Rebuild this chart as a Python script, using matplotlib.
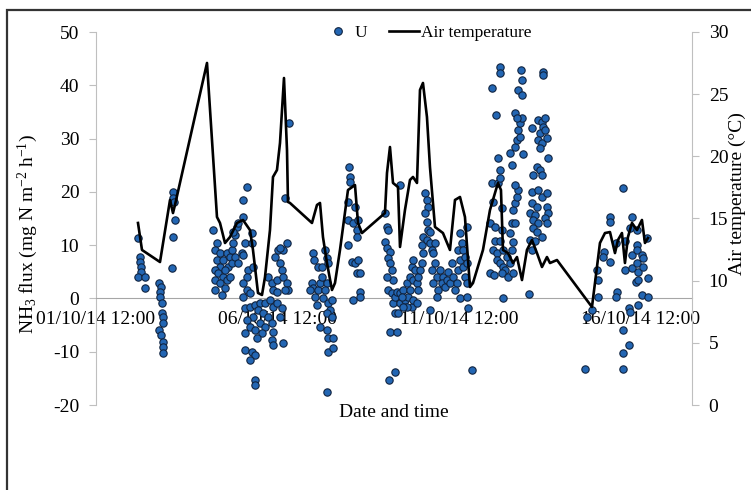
import matplotlib
matplotlib.use("Agg")
import matplotlib.pyplot as plt
from matplotlib.lines import Line2D
from matplotlib.patches import Rectangle

plt.rcParams['font.family'] = ['Liberation Serif', 'DejaVu Serif']
plt.rcParams['mathtext.fontset'] = 'custom'
plt.rcParams['mathtext.rm'] = 'Liberation Serif'
plt.rcParams['mathtext.it'] = 'Liberation Serif:italic'
plt.rcParams['axes.unicode_minus'] = False

# x values are days since 01/10/14 12:00
tick_days = [0, 5, 10, 15]
tick_labels = ['01/10/14 12:00', '06/10/14 12:00', '11/10/14 12:00', '16/10/14 12:00']

# air temperature (right axis, degC)
temp_days = [1.157, 1.267, 1.763, 2.039, 2.121, 2.176, 3.058, 3.333, 3.416, 3.554,
             3.691, 3.884, 4.05, 4.242, 4.325, 4.463, 4.573, 4.656, 4.793, 4.876,
             4.986, 5.069, 5.179, 5.262, 5.289, 5.344, 5.950, 6.088, 6.171, 6.253,
             6.364, 6.501, 6.584, 6.722, 6.942, 7.135, 7.218, 7.328, 7.961, 8.017,
             8.099, 8.182, 8.320, 8.375, 8.512, 8.650, 8.733, 8.843, 8.926, 9.008,
             9.118, 9.201, 9.339, 9.559, 9.752, 9.890, 10.028, 10.165, 10.303, 10.386,
             10.661, 10.854, 11.074, 11.157, 11.212, 11.350, 11.488, 11.598, 11.736, 11.873,
             12.011, 12.149, 12.287, 12.424, 12.507, 12.70, 13.664, 13.747, 13.884, 14.022,
             14.160, 14.298, 14.380, 14.490, 14.573, 14.656, 14.766, 14.904, 15.041, 15.124,
             15.207]
temp_values = [14.64, 12.47, 11.50, 16.49, 15.44, 16.09, 27.51, 15.12, 14.64, 13.03,
               13.51, 14.64, 14.88, 14.07, 12.47, 9.01, 8.85, 10.29, 14.07, 18.34,
               18.90, 21.07, 26.30, 20.51, 16.33, 16.25, 14.64, 16.09, 16.25, 13.51,
               11.42, 9.25, 9.81, 12.47, 17.29, 17.69, 14.64, 13.83, 15.44, 18.66,
               20.75, 17.86, 17.53, 12.71, 15.68, 18.10, 18.34, 17.86, 25.34, 25.90,
               23.16, 19.14, 14.32, 13.83, 12.47, 16.49, 16.73, 15.12, 9.49, 9.81,
               12.47, 15.68, 17.86, 17.29, 12.47, 12.22, 11.42, 11.90, 10.05, 12.47,
               13.27, 12.22, 11.10, 11.90, 11.42, 11.66, 7.88, 9.81, 13.03, 13.83,
               13.91, 12.22, 13.27, 13.83, 11.42, 13.51, 14.64, 14.07, 14.88, 13.03,
               13.43]

# NH3 flux, treatment U (left axis, mg N m-2 h-1)
flux_days = [
    1.165, 1.212, 1.212, 1.231, 1.231, 1.165, 1.350, 1.350,
    2.129, 2.113, 2.149, 2.176, 2.129, 2.085,
    1.744, 1.782, 1.763, 1.763, 1.810, 1.810, 1.854, 1.837, 1.744, 1.782, 1.854, 1.837, 1.837,
    3.215, 3.325, 3.278, 3.416, 3.325, 3.416, 3.278, 3.369, 3.507, 3.278, 3.416, 3.278, 3.463,
    3.554, 3.507, 3.601, 3.691, 3.738, 3.782, 3.829, 3.876, 3.920, 3.782, 3.645, 3.738, 3.829,
    3.920, 3.601, 3.691, 3.554, 4.058, 4.058, 4.152, 4.105, 4.014,
    4.289, 4.289, 4.058, 4.196, 4.152, 4.058, 4.152, 4.058, 4.242, 4.333, 4.105, 4.242, 4.380,
    4.518, 4.656, 4.793, 4.884, 4.978, 4.471, 4.609, 4.747, 4.333, 4.152, 4.518, 4.840, 4.242,
    4.656, 4.380, 4.105, 4.565, 4.884, 4.427, 4.840, 5.160, 4.884, 4.105, 4.289, 4.380, 4.242,
    4.380, 4.380, 5.069, 5.116,
    4.747, 4.840, 4.978, 4.931, 5.022, 5.069, 5.116, 5.160, 5.253, 5.298, 5.207, 5.160, 5.253,
    5.069, 5.317, 5.207, 4.884, 4.978,
    5.970, 6.006, 5.942, 5.986, 5.895, 6.033, 6.124, 6.171, 6.218, 6.124, 6.218, 6.309, 6.355,
    6.399, 6.355, 6.309, 6.080, 6.262, 6.399, 6.493, 6.446, 6.355, 6.493, 6.171, 6.372, 6.399,
    6.537, 6.399, 6.537, 6.372,
    6.978, 6.997, 6.997, 6.950, 7.135, 6.950, 7.088, 7.182, 7.226, 7.044, 7.135, 7.226, 7.182,
    7.273, 6.950, 7.273, 7.273, 7.088, 7.182,
    7.961, 8.008, 8.052, 7.961, 8.008, 8.099, 8.052, 8.099, 8.146, 8.190, 8.008, 8.052, 8.146,
    8.190, 8.237, 8.284, 8.237, 8.328, 8.375, 8.099, 8.284, 8.080, 8.237, 8.375,
    8.375, 8.466, 8.512, 8.559, 8.603, 8.650, 8.697, 8.741, 8.650, 8.741, 8.697, 8.741, 8.788,
    8.834, 8.879, 8.879, 8.926, 8.972, 8.834, 8.559, 8.466, 8.421, 9.017, 8.972, 9.017, 9.063,
    9.110, 9.154, 9.063, 9.110, 9.154, 9.201, 9.110, 9.201, 9.248, 9.339, 9.292, 9.339, 9.248,
    9.386, 9.292, 9.430, 9.386, 9.201,
    9.477, 9.567, 9.523, 9.614, 9.661, 9.752, 9.799, 9.705, 9.843, 9.937, 9.890, 9.981, 10.028,
    9.981, 10.074, 10.028, 10.118, 10.165, 10.118, 10.212, 10.165, 10.212, 10.212, 10.028,
    10.212, 10.256, 10.350,
    10.901, 11.129, 11.129, 11.011, 11.083, 11.129, 10.901, 11.083, 11.129, 10.945, 11.176,
    10.854, 10.992, 11.176, 10.992, 10.945, 11.039, 11.129, 11.220, 11.039, 11.129, 11.220,
    11.267, 11.176, 10.854, 10.964, 11.220, 11.314, 11.405, 11.358, 11.496, 11.452, 11.496,
    11.405, 11.452, 11.543, 11.496, 11.543, 11.590, 11.634, 11.543, 11.452, 11.405, 11.543,
    11.590, 11.680, 11.634, 11.680, 11.727, 11.543, 11.590, 11.755, 11.634, 11.727, 11.727,
    11.700,
    12.306, 12.306, 12.003, 12.185, 12.278, 12.369, 12.322, 12.231, 12.369, 12.185, 12.278,
    12.231, 12.416, 12.460, 12.140, 12.231, 12.047, 12.278, 12.003, 12.185, 12.278, 12.416,
    12.003, 12.140, 12.416, 11.956, 12.094, 12.460, 12.047, 12.185, 12.369, 12.416, 12.047,
    12.140, 12.278, 11.956, 12.003, 12.094, 11.937,
    13.479, 13.656, 13.518, 13.837, 13.837, 13.793, 13.994, 13.975, 14.160, 14.160, 14.160,
    14.325, 14.344, 14.325, 14.526, 14.573, 14.573, 14.691, 14.711, 14.510, 14.691, 14.526,
    14.510, 14.758, 14.711, 14.895, 14.758, 14.758, 14.895, 14.895, 14.895, 14.939, 14.876,
    14.939, 15.033, 15.077, 15.061, 15.033, 14.939, 15.215, 15.215, 15.187,
]
flux_values = [
    11.28, 7.83, 6.89, 5.95, 5.02, 4.08, 4.08, 1.90,
    20.03, 18.79, 18.16, 14.72, 11.58, 5.65,
    2.83, 2.20, 1.27, 0.33, -0.92, -2.79, -3.43, -4.67, -5.93, -6.86, -8.12, -9.06, -10.30,
    12.84, 10.35, 9.09, 8.47, 7.21, 5.96, 5.33, 4.71, 4.08, 3.46, 2.84, 1.58, 0.64,
    1.90, 7.21, 8.47, 7.83, 9.09, 10.35, 11.90, 13.46, 14.10, 12.52, 5.96, 6.59, 7.83,
    6.59, 3.46, 4.08, 5.33, 15.34, 18.47, 20.97, 10.35, 8.47,
    12.22, 10.35, 8.15, 5.33, 4.08, 2.84, 1.58, 0.33, 0.97, 5.96, -1.86, -1.55, -1.23,
    -0.92, -0.92, -0.30, -1.55, -0.92, -2.17, -2.79, -3.43, -3.43, -4.05, -4.67, -4.67, -5.30,
    -5.30, -5.93, -6.55, -6.55, -6.24, -7.49, -7.80, -8.42, -8.74, -9.68, -10.00, -10.62, -11.55,
    -15.31, -16.25, -3.43, -1.86,
    4.08, 2.84, 3.46, 7.83, 9.09, 6.59, 5.33, 4.08, 2.84, 1.58, 1.58, 9.09, 10.35,
    9.41, 32.98, 18.79, 1.58, 1.27,
    8.47, 7.21, 2.84, 1.90, 1.58, 0.33, 1.58, 2.84, 4.08, 5.96, 5.96, 9.09, 7.52,
    6.59, 2.84, 1.58, -1.23, 0.02, -0.92, -0.30, -2.17, -2.79, -3.43, -5.30, -5.93, -7.49,
    -7.49, -10.00, -9.36, -17.51,
    24.72, 22.84, 21.91, 18.16, 17.22, 14.72, 14.10, 12.84, 14.72, 6.89, 6.59, 7.21, 4.71,
    4.71, 10.03, 1.27, 0.33, -0.30, 11.59,
    15.97, 13.46, 12.84, 10.65, 9.41, 8.77, 7.52, 6.59, 5.33, 3.46, 4.08, 1.58, 0.97,
    -0.92, 0.33, 1.27, -2.79, -2.79, -0.92, -6.24, -6.24, -15.31, -13.74, 21.29,
    0.97, 1.58, -0.30, 2.84, 0.33, 1.58, -1.55, -0.30, 4.08, 3.46, 5.96, 7.21, 5.33,
    2.84, 1.58, 4.08, 5.33, 6.59, -0.92, -1.55, -1.55, 0.33, 11.59, 10.03, 8.47, 19.73,
    18.47, 17.22, 15.97, 14.41, 12.84, 12.52, 10.97, 10.35, 9.09, 10.35, 8.47, 6.59, 5.33,
    4.08, 2.84, 1.58, 0.33, -2.17,
    5.33, 4.08, 2.84, 2.20, 3.46, 2.84, 6.59, 5.02, 4.08, 2.84, 1.58, 5.33, 7.21,
    9.09, 10.35, 12.22, 9.09, 7.83, 5.96, 6.59, 4.08, 2.84, 13.46, 0.02,
    0.33, -1.86, -13.43,
    39.43, 43.49, 42.24, 34.42, 26.30, 24.10, 21.60, 21.60, 22.54, 18.16, 16.92,
    14.10, 13.46, 12.84, 10.72, 9.09, 8.47, 10.72, 9.09, 7.21, 6.59, 5.96,
    5.33, 4.71, 4.71, 4.40, 0.02, 7.83, 6.59, 4.08, 4.71, 9.09, 10.65,
    12.22, 14.10, 14.10, 16.59, 17.85, 19.10, 20.35, 21.29, 25.04, 27.24, 28.47,
    29.73, 30.35, 31.61, 32.87, 33.80, 34.74, 33.80, 27.10, 39.11, 38.18, 40.99,
    42.87,
    42.55, 41.93, 31.93, 33.49, 33.17, 33.80, 32.23, 30.99, 31.61, 29.73, 29.11,
    28.17, 30.05, 26.30, 24.72, 24.10, 23.16, 23.16, 20.03, 20.35, 19.10, 19.73,
    17.85, 17.22, 17.22, 15.97, 15.66, 15.97, 14.72, 14.10, 15.04, 14.10, 13.16,
    12.52, 11.59, 10.97, 9.09, 10.72, 0.77,
    -13.30, -2.17, -3.43, 3.46, 0.33, 5.33, 8.77, 7.83, 15.34, 14.41, 6.89,
    10.35, 1.27, 0.33, 20.66, 10.72, 5.33, -1.86, -2.49, -5.93, -8.74, -10.30,
    -13.30, 15.34, 13.16, 12.84, 8.15, 5.65, 10.03, 9.09, 6.59, 5.02, 3.14,
    3.46, 8.15, 7.52, 5.96, 0.64, -1.23, 3.77, 0.33, 11.28,
]

axis_grey = '#A6A6A6'
dot_face = '#2366B3'
dot_edge = '#10233F'

fig = plt.figure(figsize=(7.51, 4.90), dpi=100)
ax = fig.add_axes([96 / 751, 1 - 405 / 490, 596 / 751, 373 / 490])
ax2 = ax.twinx()

ax.scatter(flux_days, flux_values, s=28, c=dot_face, edgecolors=dot_edge,
           linewidths=0.8, zorder=3)
ax2.plot(temp_days, temp_values, color='black', linewidth=1.9, zorder=4)

ax.set_xlim(0, 16.42)
ax.set_ylim(-20, 50)
ax.set_yticks(range(-20, 51, 10))
ax2.set_ylim(0, 30)
ax2.set_yticks(range(0, 31, 5))
ax.set_xticks(tick_days)
ax.set_xticklabels(tick_labels)

# spines: x axis crosses at flux = 0
for s in ['top', 'right']:
    ax.spines[s].set_visible(False)
ax.spines['bottom'].set_position(('data', 0))
ax.spines['bottom'].set_color(axis_grey)
ax.spines['left'].set_color('#BFBFBF')
for s in ['top', 'left', 'bottom']:
    ax2.spines[s].set_visible(False)
ax2.spines['right'].set_color('#BFBFBF')

ax.tick_params(axis='x', length=0, pad=9, labelsize=14)
ax.tick_params(axis='y', length=5, width=0.8, color='#BFBFBF', pad=7, labelsize=14)
ax2.tick_params(axis='y', length=5, width=0.8, color='#BFBFBF', pad=7, labelsize=14)

ax.set_ylabel('NH$_3$ flux (mg N m$^{\\mathrm{-2}}$ h$^{\\mathrm{-1}}$)', fontsize=14)
ax.yaxis.set_label_coords(-0.094, 0.457)
ax2.set_ylabel('Air temperature (\u00b0C)', fontsize=14)
ax2.yaxis.set_label_coords(1.062, 0.566)
fig.text(394 / 751, 1 - 412 / 490, 'Date and time', fontsize=14,
         ha='center', va='center')

handles = [Line2D([], [], linestyle='none', marker='o', markersize=5.5,
                  markerfacecolor=dot_face, markeredgecolor=dot_edge, markeredgewidth=0.8),
           Line2D([], [], color='black', linewidth=1.9)]
ax2.legend(handles, ['U', 'Air temperature'], ncol=2, frameon=False, fontsize=12.5,
           loc='center', bbox_to_anchor=(427 / 751, 1 - 33 / 490),
           bbox_transform=fig.transFigure, handlelength=1.7, handletextpad=0.1,
           columnspacing=1.3)

# outer chart border
fig.patches.append(Rectangle((7 / 751, -0.1), 1.2, 1 - 10 / 490 + 0.1,
                             transform=fig.transFigure, fill=False,
                             edgecolor='#333333', linewidth=1.6))

fig.savefig('out.png', dpi=100)
plt.close(fig)
